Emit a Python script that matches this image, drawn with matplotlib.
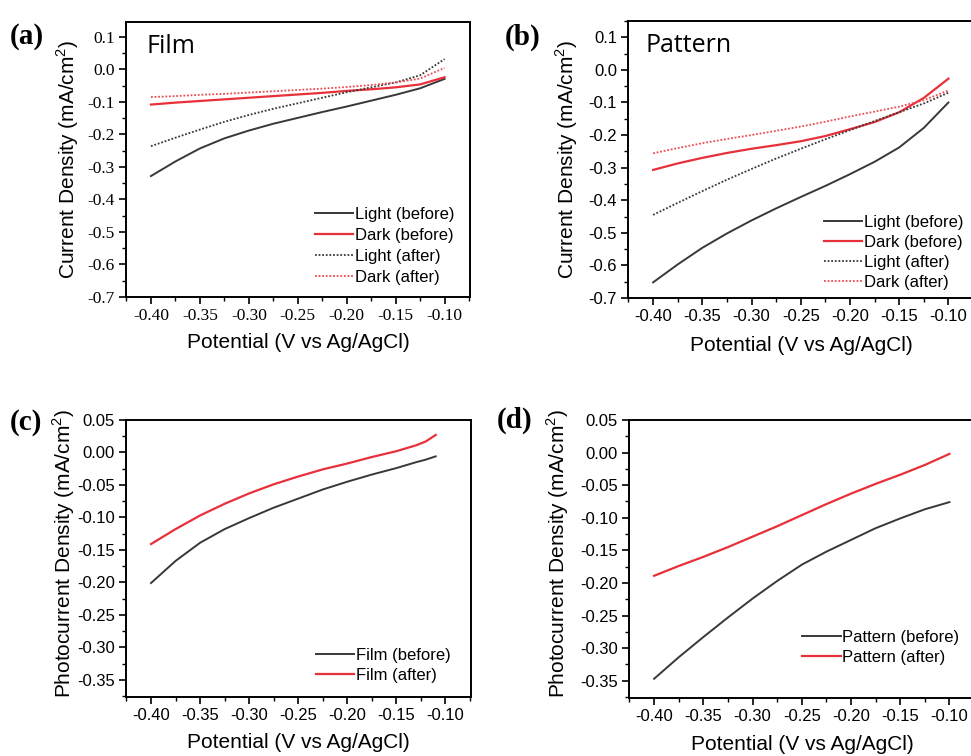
import numpy as np
import matplotlib
matplotlib.use('Agg')
import matplotlib.pyplot as plt
from matplotlib.ticker import MultipleLocator, FormatStrFormatter

plt.rcParams['font.family'] = ['Liberation Sans', 'DejaVu Sans']
plt.rcParams['mathtext.fontset'] = 'custom'
plt.rcParams['mathtext.rm'] = 'Liberation Sans'
plt.rcParams['axes.unicode_minus'] = False

# potential axis (V vs Ag/AgCl)
v_ab = [-0.40, -0.375, -0.35, -0.325, -0.30, -0.275, -0.25, -0.225, -0.20, -0.175, -0.15, -0.125, -0.10]

# (a) film
film_light_before = [-0.328, -0.283, -0.243, -0.212, -0.188, -0.167, -0.149, -0.131, -0.114, -0.096, -0.078, -0.058, -0.029]
film_dark_before = [-0.108, -0.102, -0.097, -0.092, -0.087, -0.082, -0.077, -0.072, -0.066, -0.061, -0.055, -0.046, -0.024]
film_light_after = [-0.236, -0.210, -0.185, -0.161, -0.140, -0.121, -0.104, -0.087, -0.070, -0.055, -0.040, -0.018, 0.032]
film_dark_after = [-0.085, -0.082, -0.078, -0.075, -0.071, -0.067, -0.063, -0.059, -0.054, -0.048, -0.040, -0.028, 0.005]

# (b) pattern
pat_light_before = [-0.652, -0.597, -0.546, -0.502, -0.462, -0.425, -0.390, -0.356, -0.320, -0.282, -0.238, -0.178, -0.100]
pat_dark_before = [-0.307, -0.287, -0.270, -0.255, -0.242, -0.231, -0.219, -0.203, -0.182, -0.160, -0.130, -0.086, -0.027]
pat_light_after = [-0.445, -0.408, -0.372, -0.337, -0.304, -0.272, -0.242, -0.213, -0.185, -0.157, -0.130, -0.103, -0.070]
pat_dark_after = [-0.256, -0.240, -0.225, -0.212, -0.200, -0.187, -0.174, -0.159, -0.143, -0.128, -0.113, -0.093, -0.063]

# (c) film photocurrent
v_c = [-0.40, -0.375, -0.35, -0.325, -0.30, -0.275, -0.25, -0.225, -0.20, -0.175, -0.15, -0.13, -0.12, -0.11]
film_pc_before = [-0.201, -0.167, -0.139, -0.118, -0.101, -0.085, -0.071, -0.057, -0.045, -0.034, -0.024, -0.015, -0.011, -0.006]
film_pc_after = [-0.141, -0.118, -0.097, -0.079, -0.063, -0.049, -0.037, -0.026, -0.017, -0.007, 0.002, 0.011, 0.017, 0.027]

# (d) pattern photocurrent
v_d = v_ab
pat_pc_before = [-0.347, -0.314, -0.283, -0.253, -0.224, -0.197, -0.172, -0.152, -0.134, -0.116, -0.101, -0.087, -0.076]
pat_pc_after = [-0.189, -0.174, -0.160, -0.145, -0.129, -0.113, -0.096, -0.079, -0.063, -0.048, -0.034, -0.019, -0.002]

BLACK = '#383838'
RED = '#e8303a'
RED_DOT = '#ec4a55'

W, H = 971, 756
fig = plt.figure(figsize=(W / 100, H / 100), dpi=100)


def box(l, t, r, b):
    return [l / W, 1 - b / H, (r - l) / W, (b - t) / H]


def style(ax, ymaj, yfmt, serif=False):
    ax.set_xlim(-0.4255, -0.074)
    ax.xaxis.set_major_locator(MultipleLocator(0.05))
    ax.xaxis.set_minor_locator(MultipleLocator(0.025))
    ax.xaxis.set_major_formatter(FormatStrFormatter('%.2f'))
    ax.yaxis.set_major_locator(MultipleLocator(ymaj))
    ax.yaxis.set_minor_locator(MultipleLocator(ymaj / 2))
    ax.yaxis.set_major_formatter(FormatStrFormatter(yfmt))
    ax.tick_params(which='major', direction='out', length=5, width=1.2, labelsize=12, pad=3)
    ax.tick_params(which='minor', direction='out', length=3, width=1.0)
    for s in ax.spines.values():
        s.set_linewidth(1.4)
    if serif:
        for lab in ax.get_xticklabels() + ax.get_yticklabels():
            lab.set_family('Liberation Serif')
            lab.set_fontsize(12.5)


def legend(ax, anchor, spacing=0.25):
    ax.legend(loc='lower right', bbox_to_anchor=anchor, frameon=False, fontsize=12,
              handlelength=2.3, handletextpad=0.1, labelspacing=spacing, borderaxespad=0, borderpad=0)


def labels(ax, ylab, ycoords, xcoords):
    ax.set_ylabel(ylab, fontsize=15)
    ax.set_xlabel('Potential (V vs Ag/AgCl)', fontsize=15)
    ax.yaxis.set_label_coords(*ycoords)
    ax.yaxis.label.set_va('center')
    ax.xaxis.set_label_coords(*xcoords)
    ax.xaxis.label.set_va('center')


# (a)
ax = fig.add_axes(box(126, 22, 470, 297))
ax.plot(v_ab, film_light_before, color=BLACK, lw=1.4, label='Light (before)')
ax.plot(v_ab, film_dark_before, color=RED, lw=1.6, label='Dark (before)')
ax.plot(v_ab, film_light_after, color=BLACK, lw=1.3, ls=(0, (1, 1)), label='Light (after)')
ax.plot(v_ab, film_dark_after, color=RED_DOT, lw=1.3, ls=(0, (1, 1)), label='Dark (after)')
ax.set_ylim(-0.7, 0.146)
style(ax, 0.1, '%.1f', serif=True)
legend(ax, (0.955, 0.045), spacing=0.35)
ax.text(0.06, 0.955, 'Film', transform=ax.transAxes, fontsize=18, family='Open Sans', va='top')
labels(ax, 'Current Density (mA/cm$^2$)', (-0.17, 0.5), (0.5, -0.167))

# (b)
ax = fig.add_axes(box(628, 21, 974, 298))
ax.plot(v_ab, pat_light_before, color=BLACK, lw=1.4, label='Light (before)')
ax.plot(v_ab, pat_dark_before, color=RED, lw=1.6, label='Dark (before)')
ax.plot(v_ab, pat_light_after, color=BLACK, lw=1.3, ls=(0, (1, 1)), label='Light (after)')
ax.plot(v_ab, pat_dark_after, color=RED_DOT, lw=1.3, ls=(0, (1, 1)), label='Dark (after)')
ax.set_ylim(-0.7, 0.15)
style(ax, 0.1, '%.1f')
legend(ax, (0.97, 0.03), spacing=0.3)
ax.text(0.052, 0.955, 'Pattern', transform=ax.transAxes, fontsize=18, family='Open Sans', va='top')
labels(ax, 'Current Density (mA/cm$^2$)', (-0.176, 0.5), (0.5, -0.17))

# (c)
ax = fig.add_axes(box(126, 420, 471, 697))
ax.plot(v_c, film_pc_before, color=BLACK, lw=1.4, label='Film (before)')
ax.plot(v_c, film_pc_after, color=RED, lw=1.6, label='Film (after)')
ax.set_ylim(-0.3765, 0.05)
style(ax, 0.05, '%.2f')
legend(ax, (0.94, 0.05), spacing=0.3)
labels(ax, 'Photocurrent Density (mA/cm$^2$)', (-0.18, 0.52), (0.5, -0.166))

# (d)
ax = fig.add_axes(box(629, 420, 975, 698))
ax.plot(v_d, pat_pc_before, color=BLACK, lw=1.4, label='Pattern (before)')
ax.plot(v_d, pat_pc_after, color=RED, lw=1.6, label='Pattern (after)')
ax.set_ylim(-0.3765, 0.05)
style(ax, 0.05, '%.2f')
legend(ax, (0.955, 0.12), spacing=0.3)
labels(ax, 'Photocurrent Density (mA/cm$^2$)', (-0.205, 0.52), (0.5, -0.169))

# panel letters
for txt, x, y in [('(a)', 10, 37), ('(b)', 505, 37), ('(c)', 10, 422), ('(d)', 497, 420)]:
    fig.text(x / W, 1 - y / H, txt, family='Liberation Serif', weight='bold', fontsize=21, va='center')

fig.savefig('out.png', dpi=100)
